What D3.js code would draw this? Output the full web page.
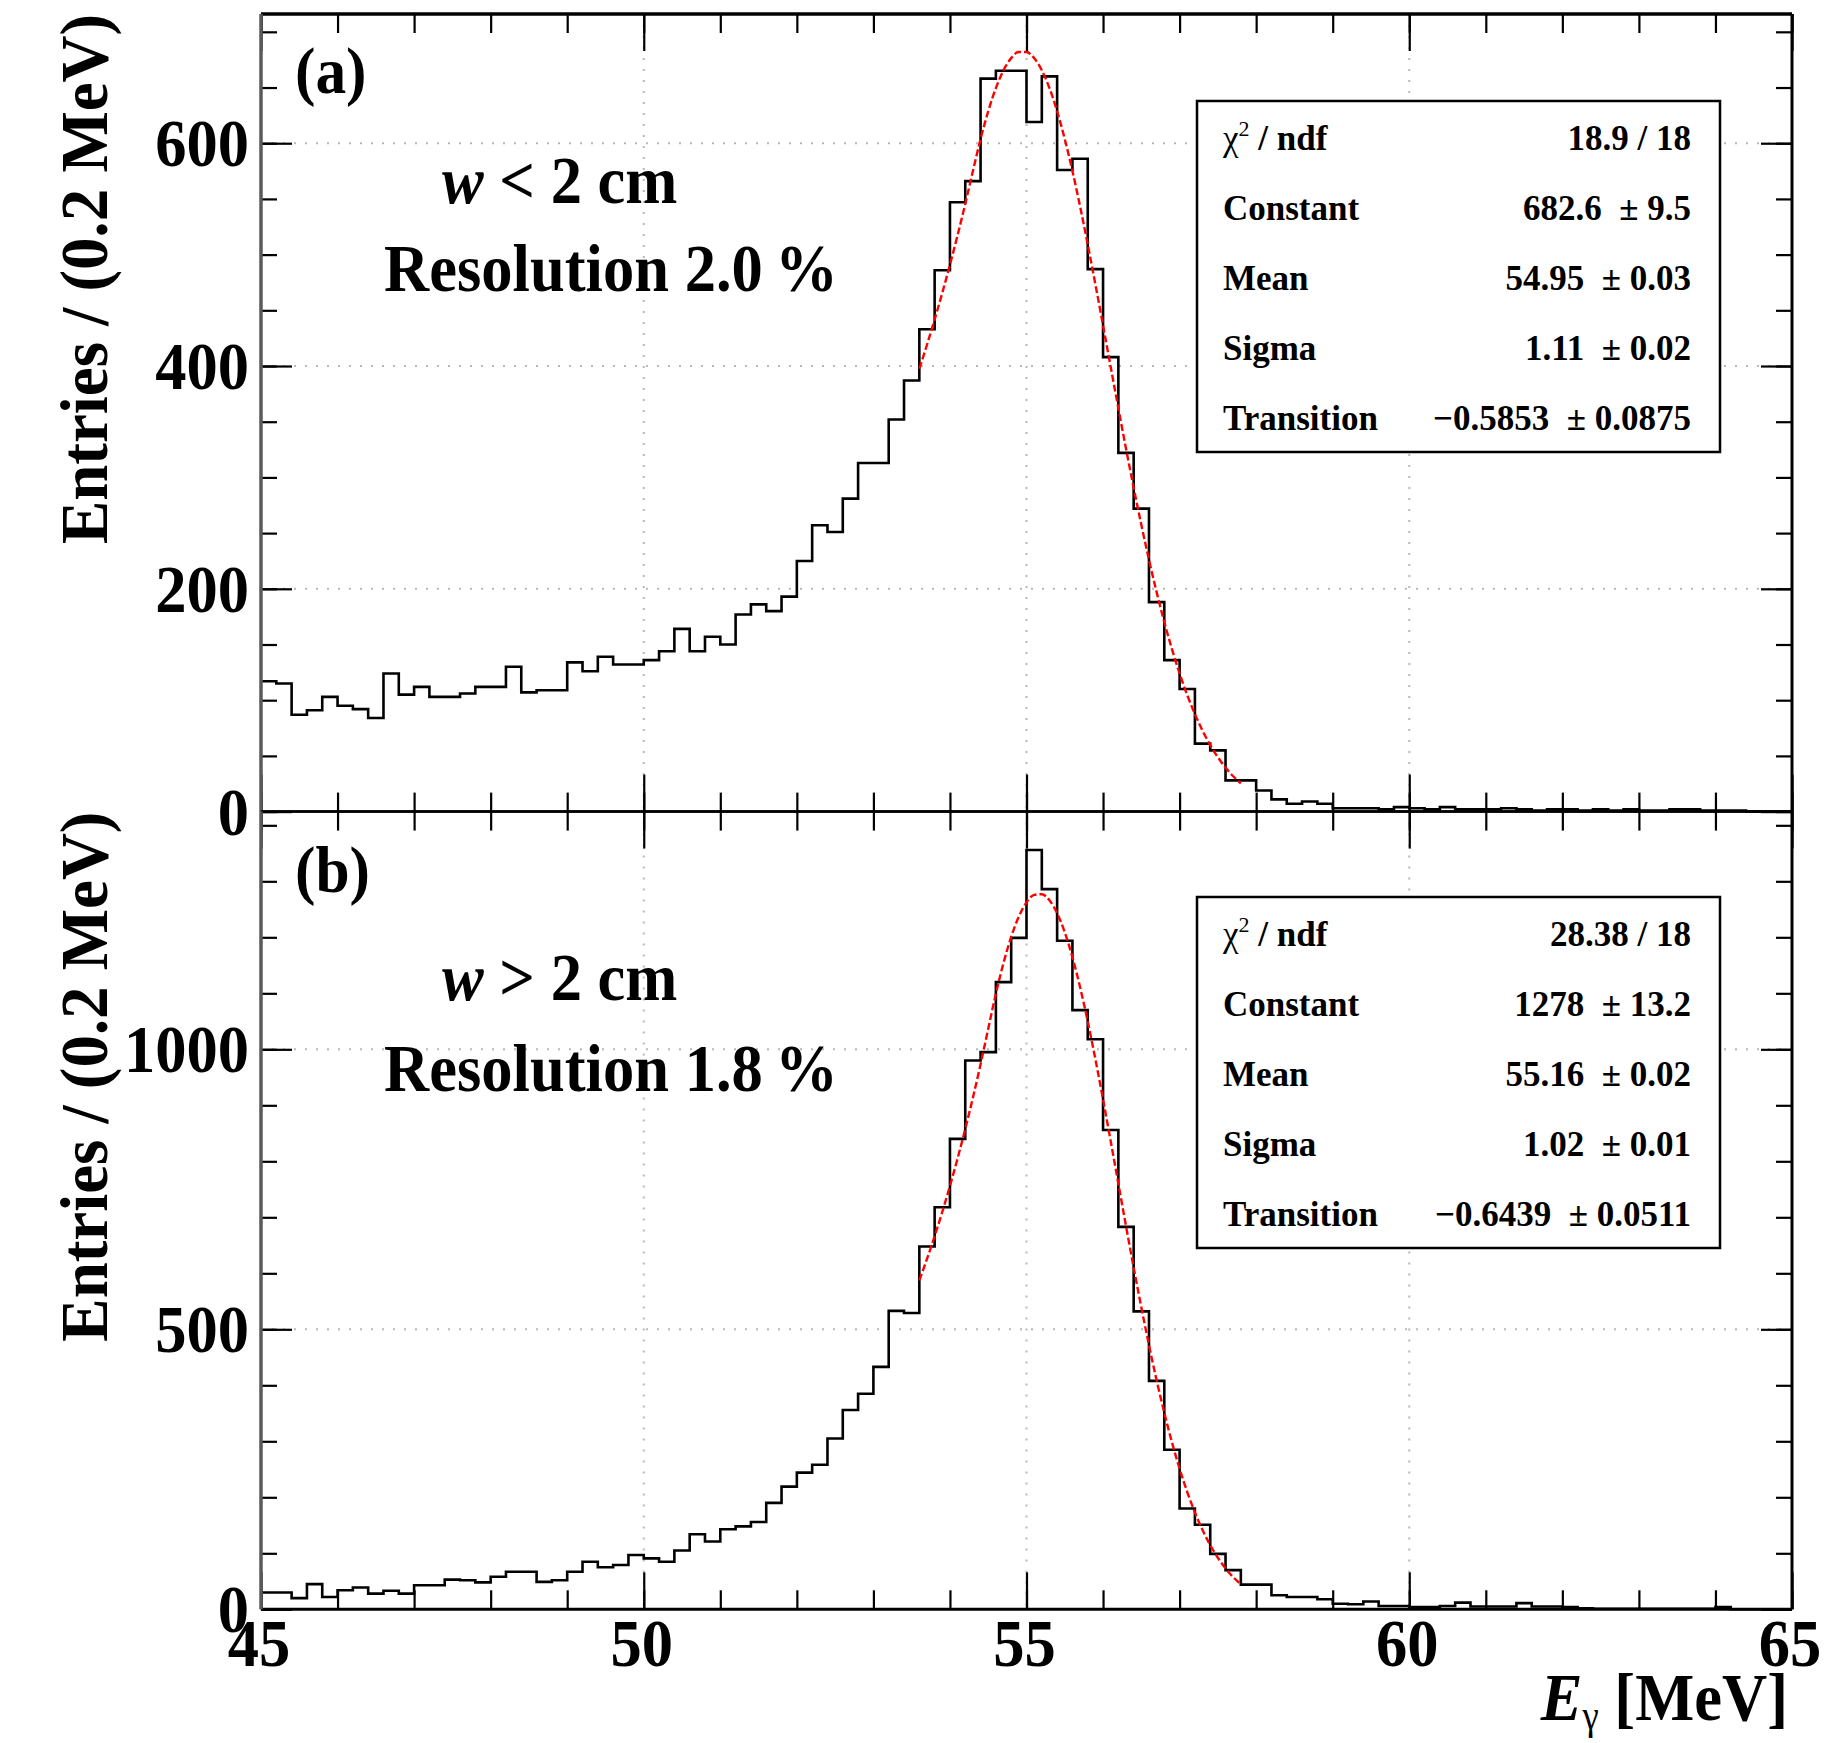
<!DOCTYPE html>
<html>
<head>
<meta charset="utf-8">
<script src="https://cdn.jsdelivr.net/npm/d3@7"></script>
<style>
  body { margin: 0; background: white; }
  svg text { font-family: "Liberation Serif", "Times New Roman", serif; font-weight: bold; fill: #000; }
</style>
</head>
<body>
<div id="canvas"></div>
<script>
const width = 1839;
const height = 1743;

// histogram binning, E_gamma in MeV
const energyRange = [45, 65];
const binWidth = 0.2;

// (a) w < 2 cm, entries per 0.2 MeV bin
const histA = [
  117, 115, 87, 91, 103, 95, 92, 84, 124, 105,
  112, 103, 103, 106, 112, 112, 130, 107, 109, 109,
  134, 126, 139, 132, 132, 136, 144, 164, 144, 157,
  150, 177, 186, 180, 193, 225, 257, 251, 281, 313,
  313, 352, 387, 433, 486, 547, 566, 658, 665, 665,
  619, 660, 576, 586, 487, 408, 322, 272, 188, 136,
  110, 61, 55, 28, 28, 19, 11, 7, 9, 7,
  3, 3, 3, 2, 4, 3, 2, 4, 2, 2,
  2, 3, 2, 1, 2, 2, 1, 2, 1, 2,
  1, 1, 2, 2, 1, 1, 1, 0, 0, 0
];

// (b) w > 2 cm
const histB = [
  30, 30, 20, 45, 22, 34, 39, 28, 33, 28,
  43, 43, 53, 52, 48, 58, 67, 67, 49, 52,
  67, 85, 75, 79, 97, 91, 85, 105, 134, 121,
  143, 148, 156, 190, 219, 244, 258, 305, 356, 385,
  433, 533, 529, 648, 718, 840, 980, 995, 1120, 1199,
  1356, 1286, 1194, 1070, 1018, 856, 683, 532, 408, 285,
  180, 151, 99, 70, 44, 44, 25, 22, 22, 18,
  10, 9, 14, 6, 6, 4, 4, 6, 12, 5,
  5, 5, 11, 5, 5, 4, 2, 1, 1, 1,
  1, 1, 1, 1, 1, 4, 0, 0, 0, 0
];

// red fit curves, sampled along the drawn line
const fitX = [
  53.6, 53.7, 53.8, 53.9, 54.0, 54.1, 54.2, 54.3, 54.4, 54.5,
  54.6, 54.7, 54.8, 54.9, 55.0, 55.1, 55.2, 55.3, 55.4, 55.5,
  55.6, 55.7, 55.8, 55.9, 56.0, 56.1, 56.2, 56.3, 56.4, 56.5,
  56.6, 56.7, 56.8, 56.9, 57.0, 57.1, 57.2, 57.3, 57.4, 57.5,
  57.6, 57.7, 57.8
];
const fitA = [
  397.6, 419.1, 441.8, 465.7, 490.9, 517.5, 545.5, 575.1, 603.7, 628.7,
  649.5, 665.5, 676.4, 681.9, 681.9, 676.4, 665.5, 649.5, 628.7, 603.7,
  575.1, 543.3, 509.1, 473.3, 436.4, 399.1, 362.1, 325.8, 290.8, 257.5,
  226.1, 197.0, 170.2, 145.9, 124.0, 104.6, 87.5, 72.6, 59.7, 48.8,
  39.5, 31.7, 25.3
];
const fitB = [
  587.3, 625.6, 666.4, 709.8, 756.1, 805.3, 857.8, 913.7, 973.3, 1036.7,
  1099.2, 1154.4, 1200.8, 1237.1, 1262.4, 1275.8, 1277.0, 1266.0, 1243.1, 1208.9,
  1164.5, 1110.9, 1049.6, 982.3, 910.5, 835.8, 760.0, 684.3, 610.4, 539.2,
  471.8, 408.8, 350.9, 298.3, 251.1, 209.4, 173.0, 141.5, 114.6, 92.0,
  73.1, 57.5, 44.9
];

const xTicks = [45, 50, 55, 60, 65];
const xGrid = [50, 55, 60];
const yTicksA = [0, 200, 400, 600];
const yTicksB = [0, 500, 1000];

const statsLabels = ["χ", "Constant", "Mean", "Sigma", "Transition"];
const statsA = ["18.9 / 18", "682.6  ± 9.5", "54.95  ± 0.03", "1.11  ± 0.02", "\u22120.5853  ± 0.0875"];
const statsB = ["28.38 / 18", "1278  ± 13.2", "55.16  ± 0.02", "1.02  ± 0.01", "\u22120.6439  ± 0.0511"];

const svg = d3.select("#canvas")
    .append("svg")
    .attr("width", width)
    .attr("height", height);

svg.append("rect")
    .attr("width", width)
    .attr("height", height)
    .attr("fill", "white");

const plotLeft = 261;
const plotRight = 1792;

const x = d3.scaleLinear().domain(energyRange).range([plotLeft, plotRight]);

// condensed bold serif text, like the original
function richText(parent, px, py, pieces, size, anchor, sx) {
    const t = parent.append("text")
        .attr("transform", `translate(${px},${py}) scale(${sx},1)`)
        .attr("font-size", size)
        .attr("text-anchor", anchor)
        .style("white-space", "pre");
    pieces.forEach(p => {
        const s = t.append("tspan").text(p.text);
        if (p.italic) s.attr("font-style", "italic");
        if (p.size) s.attr("font-size", p.size);
        if (p.dy) s.attr("dy", p.dy);
        if (p.weight) s.attr("font-weight", p.weight);
    });
    return t;
}

function tickAxis(parent, axis, tx, ty) {
    parent.append("g")
        .attr("transform", `translate(${tx},${ty})`)
        .call(axis.tickFormat(""))
        .call(s => s.select(".domain").remove())
        .call(s => s.selectAll("line").attr("stroke", "#000").attr("stroke-width", 2.2));
}

function drawPanel(p, hist, fit, yTicks, stats, tag, cutSign, resolution) {
    const y = d3.scaleLinear().domain([0, p.yMax]).range([p.bottom, p.top]);
    const g = svg.append("g");

    // dotted grid
    g.selectAll(".gx").data(xGrid).join("line")
        .attr("x1", d => x(d)).attr("x2", d => x(d))
        .attr("y1", p.top).attr("y2", p.bottom)
        .attr("stroke", "#b8b8b8").attr("stroke-width", 2).attr("stroke-dasharray", "2,9");
    g.selectAll(".gy").data(yTicks.filter(d => d > 0)).join("line")
        .attr("x1", plotLeft).attr("x2", plotRight)
        .attr("y1", d => y(d)).attr("y2", d => y(d))
        .attr("stroke", "#b8b8b8").attr("stroke-width", 2).attr("stroke-dasharray", "2,9");

    // stats box
    g.append("rect")
        .attr("x", 1197).attr("y", p.boxTop)
        .attr("width", 523).attr("height", 351)
        .attr("fill", "white").attr("stroke", "#000").attr("stroke-width", 2.5);

    statsLabels.forEach((lab, i) => {
        const by = p.boxTop + 49 + 70 * i;
        if (i === 0) {
            richText(g, 1223, by, [
                {text: "χ", weight: "normal"},
                {text: "2", size: 22, dy: -14, weight: "normal"},
                {text: " / ndf", dy: 14}
            ], 35, "start", 1);
        } else {
            richText(g, 1223, by, [{text: lab}], 35, "start", 1);
        }
        richText(g, 1691, by, [{text: stats[i]}], 35, "end", 1);
    });

    // histogram outline
    const steps = hist.flatMap((v, i) => [
        [energyRange[0] + i * binWidth, v],
        [energyRange[0] + (i + 1) * binWidth, v]
    ]);
    g.append("path")
        .datum(steps)
        .attr("fill", "none")
        .attr("stroke", "#000")
        .attr("stroke-width", 2.6)
        .attr("d", d3.line().x(d => x(d[0])).y(d => y(d[1])));

    // fit curve
    g.append("path")
        .datum(fit)
        .attr("fill", "none")
        .attr("stroke", "#ff0000")
        .attr("stroke-width", 2.4)
        .attr("stroke-dasharray", "7,3")
        .attr("d", d3.line().x((d, i) => x(fitX[i])).y(d => y(d)).curve(d3.curveMonotoneX));

    // ticks on all four sides, pointing inward
    const minorY = d3.range(0, p.yMax, p.minorStep);
    const minorX = d3.range(energyRange[0], energyRange[1] + 1, 1);
    tickAxis(g, d3.axisLeft(y).tickValues(yTicks).tickSize(-31), plotLeft, 0);
    tickAxis(g, d3.axisLeft(y).tickValues(minorY).tickSize(-16), plotLeft, 0);
    tickAxis(g, d3.axisRight(y).tickValues(yTicks).tickSize(-31), plotRight, 0);
    tickAxis(g, d3.axisRight(y).tickValues(minorY).tickSize(-16), plotRight, 0);
    tickAxis(g, d3.axisTop(x).tickValues(xTicks).tickSize(-37), 0, p.top);
    tickAxis(g, d3.axisTop(x).tickValues(minorX).tickSize(-19), 0, p.top);
    tickAxis(g, d3.axisBottom(x).tickValues(xTicks).tickSize(-37), 0, p.bottom);
    tickAxis(g, d3.axisBottom(x).tickValues(minorX).tickSize(-19), 0, p.bottom);

    // frame
    g.append("line").attr("x1", plotLeft).attr("x2", plotRight).attr("y1", p.top).attr("y2", p.top)
        .attr("stroke", "#000").attr("stroke-width", p.topWidth);
    g.append("line").attr("x1", plotLeft).attr("x2", plotRight).attr("y1", p.bottom).attr("y2", p.bottom)
        .attr("stroke", "#000").attr("stroke-width", p.bottomWidth);
    g.append("line").attr("x1", plotRight).attr("x2", plotRight).attr("y1", p.top).attr("y2", p.bottom)
        .attr("stroke", "#000").attr("stroke-width", 3);
    g.append("line").attr("x1", plotLeft).attr("x2", plotLeft).attr("y1", p.top).attr("y2", p.bottom)
        .attr("stroke", "#5a5a5a").attr("stroke-width", 3.5);

    // y tick labels
    yTicks.forEach(v => {
        richText(g, 249, y(v) + 23, [{text: String(v)}], 68, "end", 0.92);
    });

    // y title
    g.append("text")
        .attr("transform", `translate(107,${p.top}) rotate(-90) scale(0.955,1)`)
        .attr("font-size", 68)
        .attr("text-anchor", "end")
        .text("Entries / (0.2 MeV)");

    // annotations
    richText(g, 295, p.tagY, [{text: tag}], 66, "start", 0.93);
    richText(g, 442, p.cutY, [
        {text: "w", italic: true},
        {text: " " + cutSign + " 2 cm"}
    ], 68, "start", 0.92);
    richText(g, 384, p.resY, [{text: "Resolution " + resolution + "\u2009%"}], 68, "start", 0.92);
}

const panelA = {top: 14, bottom: 811.6, yMax: 716, minorStep: 50, boxTop: 101,
    tagY: 93, cutY: 203, resY: 291, topWidth: 3.5, bottomWidth: 2.5};
const panelB = {top: 811.6, bottom: 1609.3, yMax: 1424.5, minorStep: 100, boxTop: 897,
    tagY: 892, cutY: 1000, resY: 1091, topWidth: 2.5, bottomWidth: 3};

drawPanel(panelA, histA, fitA, yTicksA, statsA, "(a)", "<", "2.0");
drawPanel(panelB, histB, fitB, yTicksB, statsB, "(b)", ">", "1.8");

// x tick labels and title, bottom panel only
xTicks.forEach(v => {
    richText(svg, x(v) - 2, 1666, [{text: String(v)}], 68, "middle", 0.92);
});

richText(svg, 1788, 1720, [
    {text: "E", italic: true},
    {text: "γ", size: 40, dy: 9, weight: "normal"},
    {text: " [MeV]", dy: -9}
], 68, "end", 0.92);
</script>
</body>
</html>
